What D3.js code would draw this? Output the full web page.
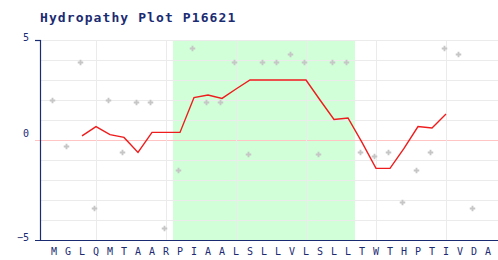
<!DOCTYPE html>
<html>
<head>
<meta charset="utf-8">
<script src="https://cdn.jsdelivr.net/npm/d3@7"></script>
<style>
  body { margin: 0; background: #fff; }
  text { font-family: "DejaVu Sans Mono", monospace; }
</style>
</head>
<body>
<div id="chart"></div>
<script>
// sequence shown along the x axis
const residues = ['M','G','L','Q','M','T','A','A','R','P','I','A','A','L','S','L',
                  'L','V','L','S','L','L','T','W','T','H','P','T','I','V','D','A'];
// per-residue hydropathy (grey crosses)
const hydropathy = [1.9, -0.4, 3.8, -3.5, 1.9, -0.7, 1.8, 1.8, -4.5, -1.6, 4.5, 1.8, 1.8, 3.8, -0.8, 3.8,
                    3.8, 4.2, 3.8, -0.8, 3.8, 3.8, -0.7, -0.9, -0.7, -3.2, -1.6, -0.7, 4.5, 4.2, -3.5];
// smoothed curve (red), starts at residue index 2
const smoothStart = 2;
const smoothed = [0.21, 0.67, 0.27, 0.13, -0.62, 0.38, 0.38, 0.38, 2.12, 2.25, 2.08, 2.55, 3.0, 3.0,
                  3.0, 3.0, 3.0, 2.0, 1.03, 1.1, -0.12, -1.42, -1.42, -0.42, 0.67, 0.6, 1.3];
// predicted transmembrane segment (green band), residue indices
const tmStart = 9, tmEnd = 21;
const yTicks = [5, 0, -5];

const width = 498, height = 260;
const navy = '#1b2b72';

const svg = d3.select('#chart').append('svg')
    .attr('width', width)
    .attr('height', height);

const x = d3.scaleLinear().domain([0, residues.length - 1]).range([54, 488]);
const y = d3.scaleLinear().domain([-5, 5]).range([240, 40]);

// title
svg.append('text')
    .attr('x', 40).attr('y', 22)
    .attr('fill', navy)
    .style('font-size', '13px')
    .style('font-weight', 'bold')
    .style('letter-spacing', '1.1px')
    .text('Hydropathy Plot P16621');

// green band
svg.append('rect')
    .attr('x', x(tmStart - 0.5))
    .attr('y', y(5))
    .attr('width', x(tmEnd + 0.5) - x(tmStart - 0.5))
    .attr('height', y(-5) - y(5))
    .attr('fill', '#d0ffd8');

// grid
svg.append('g').selectAll('line')
    .data(d3.range(-4, 6))
    .enter().append('line')
    .attr('x1', 40).attr('x2', width)
    .attr('y1', d => y(d) + 0.5).attr('y2', d => y(d) + 0.5)
    .attr('stroke', d => d === 0 ? '#ffc4c4' : '#ebebeb');

svg.append('g').selectAll('line')
    .data(d3.range(3, residues.length, 5))
    .enter().append('line')
    .attr('x1', d => x(d) + 0.5).attr('x2', d => x(d) + 0.5)
    .attr('y1', y(5)).attr('y2', y(-5))
    .attr('stroke', '#ebebeb');

// zero line stub left of the axis
svg.append('line')
    .attr('x1', 35).attr('x2', 40)
    .attr('y1', y(0) + 0.5).attr('y2', y(0) + 0.5)
    .attr('stroke', '#ffc4c4');

// raw values
svg.append('g').selectAll('path')
    .data(hydropathy)
    .enter().append('path')
    .attr('d', d3.symbol().type(d3.symbolCross).size(17))
    .attr('transform', (d, i) => `translate(${x(i) - 1.5},${y(d) - 1.5})`)
    .attr('fill', '#c6c6c6');

// smoothed line
const line = d3.line()
    .x((d, i) => x(i + smoothStart))
    .y(d => y(d));

svg.append('path')
    .datum(smoothed)
    .attr('d', line)
    .attr('fill', 'none')
    .attr('stroke', '#ee1c1c')
    .attr('stroke-width', 1.4);

// axes
svg.append('line')
    .attr('x1', 40.5).attr('x2', 40.5)
    .attr('y1', y(5)).attr('y2', y(-5) + 1)
    .attr('stroke', navy).attr('stroke-width', 1.2);
svg.append('line')
    .attr('x1', 35).attr('x2', 41)
    .attr('y1', y(5) + 0.5).attr('y2', y(5) + 0.5)
    .attr('stroke', navy).attr('stroke-width', 1.2);
svg.append('line')
    .attr('x1', 35).attr('x2', width)
    .attr('y1', y(-5) + 0.5).attr('y2', y(-5) + 0.5)
    .attr('stroke', navy).attr('stroke-width', 1.2);

svg.append('g').selectAll('text')
    .data(yTicks)
    .enter().append('text')
    .attr('x', 29)
    .attr('y', d => y(d) + (d === 0 ? -3 : 1))
    .attr('text-anchor', 'end')
    .attr('fill', navy)
    .style('font-size', '10px')
    .text(d => d === -5 ? '\u22125' : d);

svg.append('g').selectAll('text')
    .data(residues)
    .enter().append('text')
    .attr('x', (d, i) => x(i))
    .attr('y', 255)
    .attr('text-anchor', 'middle')
    .attr('fill', navy)
    .style('font-size', '10px')
    .text(d => d);
</script>
</body>
</html>
